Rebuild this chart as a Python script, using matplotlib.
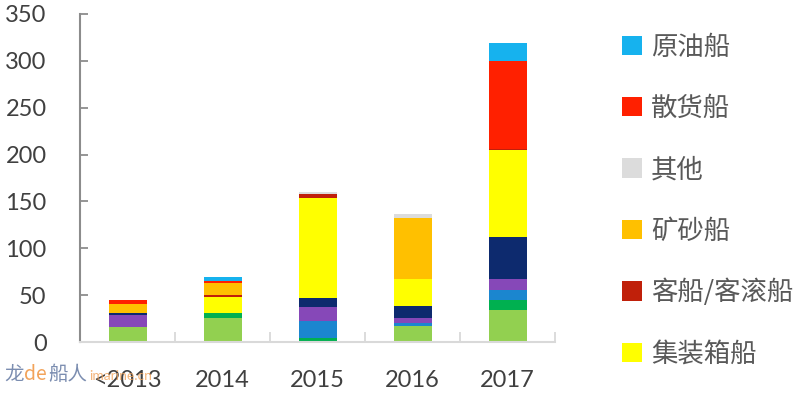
import numpy as np
import matplotlib.pyplot as plt
from matplotlib.patches import Patch

plt.rcParams['font.family'] = ['Lato', 'Noto Sans CJK SC', 'DejaVu Sans']

years = ['<2013', '2014', '2015', '2016', '2017']

# stacked series, bottom to top
light_green = [16.5, 25.8, 0, 16.9, 34.4]
green = [0, 5.3, 4.5, 0, 10.7]
blue = [0, 0, 18.5, 3.6, 10.7]
purple = [12.5, 0, 15.0, 4.9, 11.7]
navy = [2.5, 0, 9.3, 12.8, 45.1]
container = [0, 17.0, 106.7, 29.0, 91.8]      # 集装箱船
passenger = [0, 2.5, 3.5, 0, 1.8]             # 客船/客滚船
ore = [8.9, 12.5, 0, 64.7, 0]                 # 矿砂船
other = [0, 0, 2.5, 4.7, 0]                   # 其他
bulk = [4.7, 2.5, 0, 0, 93.9]                 # 散货船
crude = [0, 3.5, 0, 0, 18.8]                  # 原油船

series = [light_green, green, blue, purple, navy, container,
          passenger, ore, other, bulk, crude]
colors = ['#92D050', '#00B050', '#1B86CF', '#8648B8', '#0D2A6E', '#FFFF00',
          '#C0200A', '#FFC000', '#DCDCDC', '#FF2000', '#16B2EE']

legend_names = ['原油船', '散货船', '其他', '矿砂船', '客船/客滚船', '集装箱船']
legend_colors = ['#16B2EE', '#FF2000', '#DCDCDC', '#FFC000', '#C0200A', '#FFFF00']

fig = plt.figure(figsize=(8, 3.96), dpi=100)
ax = fig.add_axes([0.1, 0.136, 0.594, 0.829])

x = np.arange(len(years))
bottom = np.zeros(len(years))
for vals, c in zip(series, colors):
    ax.bar(x, vals, 0.4, bottom=bottom, color=c, linewidth=0)
    bottom += np.array(vals)

ax.set_xlim(-0.5, 4.5)
ax.set_ylim(0, 350)
ax.set_yticks(range(0, 351, 50))
ax.set_xticks(x)
ax.set_xticklabels(years)
ax.set_xticks(np.arange(-0.5, 4.6, 1), minor=True)

for s in ['top', 'right']:
    ax.spines[s].set_visible(False)
ax.spines['left'].set_color('#8c8c8c')
ax.spines['left'].set_linewidth(1.5)
ax.spines['bottom'].set_color('#d9d9d9')
ax.spines['bottom'].set_linewidth(1.5)

ax.tick_params(axis='y', direction='in', length=6, width=1.3, color='#8c8c8c',
               labelsize=17, labelcolor='#404040', pad=24)
ax.tick_params(axis='x', which='major', length=0, labelsize=17,
               labelcolor='#404040', pad=20)
ax.tick_params(axis='x', which='minor', direction='in', length=7, width=1.3,
               color='#d9d9d9')

handles = [Patch(facecolor=c, edgecolor='none') for c in legend_colors]
leg = fig.legend(handles, legend_names, loc='upper left',
                 bbox_to_anchor=(0.748, 0.975), frameon=False,
                 prop={'family': ['Noto Sans CJK SC'], 'size': 19},
                 handlelength=0.75, handleheight=0.75, handletextpad=0.35,
                 labelspacing=1.3)
for t in leg.get_texts():
    t.set_color('#595959')

# watermark
fig.text(0.005, 0.04, '龙', color='#7b8db0', fontsize=14, family=['Noto Sans CJK SC'])
fig.text(0.03, 0.04, 'de', color='#f2a35a', fontsize=14, family=['Noto Sans CJK SC'])
fig.text(0.06, 0.04, '船人', color='#7b8db0', fontsize=14, family=['Noto Sans CJK SC'])
fig.text(0.112, 0.04, 'imarine.cn', color='#f2a35a', fontsize=10, alpha=0.8)

fig.savefig('out.png', dpi=100)
